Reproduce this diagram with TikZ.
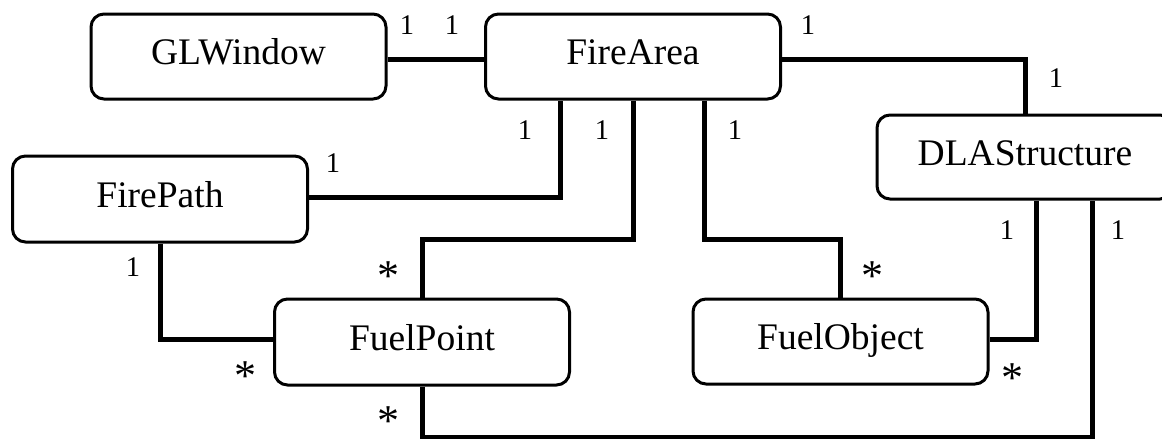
\documentclass[tikz,border=0pt]{standalone}
\usepackage{fontspec}
\setmainfont{Liberation Serif}
\begin{document}
\begin{tikzpicture}[x=1pt,y=-1pt,
  cls/.style={draw, line width=3pt, rounded corners=13pt, minimum width=295pt,
    minimum height=85pt, inner sep=0pt, font=\fontsize{37.5}{40}\selectfont,
    text height=25.5pt, text depth=9pt},
  conn/.style={line width=5pt},
  lbl/.style={font=\fontsize{28.5}{30}\selectfont, anchor=base, inner sep=0pt},
  star/.style={font=\fontsize{44}{46}\selectfont, anchor=base, inner sep=0pt}]
\clip (0,0) rectangle (1162,439);
% classes
\node[cls] (GLWindow) at (238.5,56.5) {GLWindow};
\node[cls] (FireArea) at (633,56.5) {FireArea};
\node[cls, minimum width=296pt, minimum height=84pt] (DLAStructure) at (1025,157) {DLAStructure};
\node[cls, minimum height=86pt] (FirePath) at (160,199) {FirePath};
\node[cls, minimum height=86pt] (FuelPoint) at (422,342) {FuelPoint};
\node[cls] (FuelObject) at (840.5,341.5) {FuelObject};
% connectors
\draw[conn] (GLWindow.east |- 0,59) -- (FireArea.west |- 0,59);
\draw[conn] (FireArea.east |- 0,59) -| (DLAStructure.north);
\draw[conn] (FirePath.east |- 0,197) -| (FireArea.south -| 560,0);
\draw[conn] (FireArea.south) |- (FuelPoint.north |- 0,239) -- (FuelPoint.north);
\draw[conn] (FireArea.south -| 704,0) |- (FuelObject.north |- 0,239) -- (FuelObject.north);
\draw[conn] (FirePath.south) |- (FuelPoint.west |- 0,339);
\draw[conn] (DLAStructure.south -| 1036,0) |- (FuelObject.east |- 0,339);
\draw[conn] (FuelPoint.south) |- (1092,437) -- (DLAStructure.south -| 1092,0);
% multiplicities
\node[lbl] (m1) at (407,34.6) {1};
\node[lbl] (m2) at (452,34.6) {1};
\node[lbl] (m3) at (808,34.6) {1};
\node[lbl] (m4) at (1056,87.6) {1};
\node[lbl] (m5) at (333,172.6) {1};
\node[lbl] (m6) at (525,139.6) {1};
\node[lbl] (m7) at (602,139.6) {1};
\node[lbl] (m8) at (735,139.6) {1};
\node[lbl] (m9) at (1007,239.6) {1};
\node[lbl] (m10) at (1118,239.6) {1};
\node[lbl] (m11) at (133,276.6) {1};
\node[star] (s1) at (388,290.7) {*};
\node[star] (s2) at (245,390.7) {*};
\node[star] (s3) at (388,435.7) {*};
\node[star] (s4) at (872,290.7) {*};
\node[star] (s5) at (1012,392.7) {*};
\end{tikzpicture}
\end{document}
